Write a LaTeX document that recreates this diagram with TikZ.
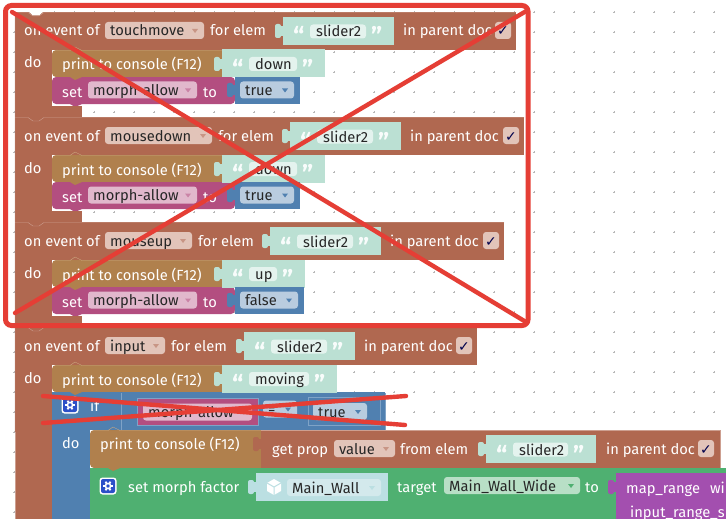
\documentclass[tikz,border=0pt]{standalone}
\usepackage{fontspec}
\setmainfont{Fira Sans}
\newfontfamily\symfont{DejaVu Sans}

\definecolor{evtbrown}{HTML}{B06850}
\definecolor{evtedge}{HTML}{CD9F90}
\definecolor{evtfield}{HTML}{E2C4B9}
\definecolor{printbrown}{HTML}{B0804D}
\definecolor{printedge}{HTML}{CCA881}
\definecolor{setpink}{HTML}{B34E80}
\definecolor{setfield}{HTML}{E1B8CC}
\definecolor{logicblue}{HTML}{5080B0}
\definecolor{logicedge}{HTML}{7FA3C7}
\definecolor{logicfield}{HTML}{B9CCDF}
\definecolor{textteal}{HTML}{BBE0D3}
\definecolor{textfield}{HTML}{E4F3EE}
\definecolor{objgreen}{HTML}{4FB071}
\definecolor{objfield}{HTML}{B8DFC6}
\definecolor{wallteal}{HTML}{BBDFE2}
\definecolor{wallfield}{HTML}{D3E9EC}
\definecolor{mapviolet}{HTML}{A34FAF}
\definecolor{gearblue}{HTML}{2C4FC8}
\definecolor{crossred}{HTML}{E53E35}

\tikzset{
  lbl/.style={font=\fontsize{14.7}{14.7}\selectfont, text=white, inner sep=0pt, anchor=base west},
  val/.style={font=\fontsize{14.7}{14.7}\selectfont, text=black!85, inner sep=0pt, anchor=base west},
  qmark/.style={font=\fontsize{25}{25}\selectfont\bfseries, text=white!90!textteal, inner sep=0pt, anchor=base west},
  fld/.style={fill=#1, rounded corners=3pt},
  cross/.style={draw=crossred, line width=4.4pt, line cap=round}
}

% name, x, centre y, width, fill, text, arrow colour
\newcommand{\fieldbox}[7]{
  \fill[fld=#5] (#2,#3-8.5) rectangle (#2+#4,#3+8.5);
  \node[val] (#1) at (#2+5,#3+5.5) {#6};
  \fill[#7] (#2+#4-12,#3-1.5) -- (#2+#4-6,#3-1.5) -- (#2+#4-9,#3+2.5) -- cycle;
}
% x, centre y, colour of the block it is plugged in
\newcommand{\plugtab}[3]{
  \fill[#3, rounded corners=2pt] (#1-8,#2-7) rectangle (#1-2,#2+7);
  \fill[#3] (#1-4,#2-5) rectangle (#1+1,#2+5);
}
% name, x, centre y, width, word
\newcommand{\quotebox}[5]{
  \fill[textteal] (#2,#3-14) rectangle (#2+#4,#3+14);
  \fill[fld=textfield] (#2+27,#3-6.5) rectangle (#2+#4-28,#3+7.5);
  \node[qmark] (#1l) at (#2+10,#3+15) {“};
  \node[qmark] (#1r) at (#2+#4-23,#3+15) {”};
  \node[val] (#1) at (#2+33,#3+6) {#5};
}
% centre x, centre y
\newcommand{\gearbtn}[2]{
  \fill[white, rounded corners=3pt] (#1-8.5,#2-8.5) rectangle (#1+8.5,#2+8.5);
  \fill[gearblue, rounded corners=2pt] (#1-7,#2-7) rectangle (#1+7,#2+7);
  \foreach \a in {0,60,...,300}
    \draw[white, line width=1.8pt] (#1,#2) ++(\a:2.6) -- ++(\a:2.4);
  \draw[white, line width=1.5pt] (#1,#2) circle (2.6);
}
% name, top y, right x, field width, field text, x of the quote block
\newcommand{\evtrow}[6]{
  \fill[evtbrown] (15,#2) rectangle (#3,#2+38);
  \fill[evtbrown] (15,#2) rectangle (52,#2+105);
  \draw[evtedge] (15,#2+105) -- (15,#2+0.5) -- (28,#2+0.5) -- (33,#2+4) -- (39,#2+4) -- (44,#2+0.5) -- (#3,#2+0.5);
  \node[lbl] (#1on) at (24,#2+24) {on event of};
  \fieldbox{#1evt}{105}{#2+18.5}{#4}{evtfield}{#5}{evtbrown!70}
  \node[lbl] (#1for) at (105+#4+6,#2+24) {for elem};
  \plugtab{#6}{#2+19}{textteal}
  \quotebox{#1elem}{#6}{#2+19}{111}{slider2}
  \node[lbl] (#1par) at (#6+120,#2+24) {in parent doc};
  \fill[fld=evtfield] (#3-21,#2+10) rectangle (#3-5,#2+27);
  \node[val, font=\fontsize{14}{14}\selectfont\symfont, text=black!70!blue] (#1chk) at (#3-19,#2+24) {✓};
  \node[lbl] (#1do) at (24,#2+56) {do};
}
% x left, top y, right x, height
\newcommand{\printblk}[4]{
  \fill[printbrown, rounded corners=4pt] (#1,#2) rectangle (#1+10,#2+#4);
  \fill[printbrown] (#1+5,#2) rectangle (#3,#2+#4);
  \fill[printbrown] (#1+18,#2+#4) -- (#1+23,#2+#4+3) -- (#1+30,#2+#4) -- cycle;
  \draw[printedge] (#1+3,#2+0.5) -- (#1+18,#2+0.5) -- (#1+23,#2-3) -- (#1+30,#2+0.5) -- (#3,#2+0.5);
}
% name, top y, word, width of quote block, value text, right x of value
\newcommand{\printset}[6]{
  \fill[setpink, rounded corners=4pt] (52,#2+27) rectangle (235,#2+54);
  \fill[setpink] (70,#2+54) -- (75,#2+57) -- (82,#2+54) -- cycle;
  \printblk{52}{#2}{222}{27}
  \node[lbl] (#1prt) at (62,#2+20) {print to console (F12)};
  \plugtab{222}{#2+14}{textteal}
  \quotebox{#1word}{222}{#2+13.5}{#4}{#3}
  \node[lbl] (#1set) at (62,#2+47) {set};
  \fieldbox{#1var}{88}{#2+40}{109}{setfield}{morph-allow}{setpink!70}
  \node[lbl] (#1to) at (203,#2+47) {to};
  \fill[logicblue] (235,#2+27) rectangle (#6,#2+54);
  \plugtab{235}{#2+40}{logicblue}
  \fieldbox{#1val}{240}{#2+40}{#6-246}{logicfield}{#5}{logicblue}
}

\begin{document}
\begin{tikzpicture}[x=1pt, y=-1pt]
  \useasboundingbox (0,0) rectangle (726,519);
  \fill[white] (0,0) rectangle (726,519);

  % grid dots
  \foreach \gx in {14,34,...,714}
    \foreach \gy in {12,32,...,512} {
      \fill[black!28] (\gx-1.2,\gy-0.3) rectangle (\gx+1.2,\gy+0.3);
      \fill[black!28] (\gx-0.3,\gy-1.2) rectangle (\gx+0.3,\gy+1.2);
    }

  % the four event blocks
  \fill[evtbrown] (15,327) rectangle (52,519);
  \draw[evtedge] (15,327) -- (15,519);

  \evtrow{a}{12}{516}{99}{touchmove}{283}
  \fill[white] (28,11) -- (33,15.5) -- (39,15.5) -- (44,11) -- cycle;
  \printset{a}{50}{down}{103}{true}{300}
  \fill[evtbrown] (52,106) rectangle (82,117);

  \evtrow{b}{117}{524}{107}{mousedown}{290}
  \printset{b}{155}{down}{103}{true}{300}
  \fill[evtbrown] (52,211) rectangle (82,222);

  \evtrow{c}{222}{504}{87}{mouseup}{270}
  \printset{c}{260}{up}{83}{false}{304}
  \fill[evtbrown] (52,316) rectangle (82,327);

  \evtrow{d}{327}{477}{60}{input}{244}

  % the if block
  \fill[logicblue] (52,392) rectangle (385,430);
  \fill[logicblue] (52,430) rectangle (90,519);
  \draw[logicedge] (121,392.5) -- (121,430) -- (385,430) -- (385,392.5);
  \gearbtn{70}{405}
  \node[lbl] (ifword) at (90,411) {if};
  \fill[setpink] (137,398) rectangle (258,425);
  \draw[logicedge] (137,398) rectangle (258,425);
  \fieldbox{ifvar}{143}{412}{109}{setfield}{morph-allow}{setpink!70}
  \fieldbox{ifop}{263}{409}{34}{logicfield}{=}{logicblue}
  \draw[logicedge] (308,397) rectangle (380,425);
  \fieldbox{iftrue}{313}{411.5}{54}{logicfield}{true}{logicblue}
  \node[lbl] (ifdo) at (62,448) {do};

  \printblk{52}{365}{222}{27}
  \node[lbl] (dprt) at (62,385) {print to console (F12)};
  \plugtab{222}{379}{textteal}
  \quotebox{dword}{222}{378.5}{115}{moving}

  % the green block
  \fill[objgreen] (90,468) rectangle (726,519);
  \gearbtn{108}{486}
  \node[lbl] (mset) at (128,492) {set morph factor};
  \plugtab{256}{487}{wallteal}
  \fill[wallteal] (256,473) rectangle (388,501);
  \fill[white] (274,479) -- (281,483) -- (281,491) -- (274,495) -- (267,491) -- (267,483) -- cycle;
  \draw[wallteal, line width=1pt] (267,483) -- (274,487) -- (281,483) (274,487) -- (274,495);
  \fieldbox{mfrom}{287}{487.5}{94}{wallfield}{Main\_Wall}{wallteal}
  \node[lbl] (mtarget) at (397,492) {target};
  \fieldbox{mgoal}{444}{485.5}{136}{objfield}{Main\_Wall\_Wide}{objgreen}
  \node[lbl] (mto) at (585,492) {to};
  \fill[mapviolet] (616,473) rectangle (726,519);
  \plugtab{616}{487}{mapviolet}
  \node[lbl] (mrange) at (626,493) {map\_range};
  \node[lbl] (mwi) at (710,493) {wi};
  \node[lbl] (minput) at (630,517) {input\_range\_s};

  % the print block inside do
  \printblk{90}{430}{261}{38}
  \node[lbl] (gprt) at (100,449) {print to console (F12)};
  \fill[evtbrown] (261,430) rectangle (720,468);
  \plugtab{261}{444}{evtbrown}
  \draw[evtedge] (261,430.5) -- (720,430.5) -- (720,468);
  \node[lbl] (gget) at (272,454) {get prop};
  \fieldbox{gprop}{334}{448.5}{61}{evtfield}{value}{evtbrown!70}
  \node[lbl] (gfrom) at (400,454) {from elem};
  \plugtab{486}{449}{textteal}
  \quotebox{gelem}{486}{449}{110}{slider2}
  \node[lbl] (gpar) at (606,454) {in parent doc};
  \fill[fld=evtfield] (698,440) rectangle (714,457);
  \node[val, font=\fontsize{14}{14}\selectfont\symfont, text=black!70!blue] (gchk) at (700,454) {✓};

  % the red marks
  \coordinate (boxa) at (5.5,5.5);
  \coordinate (boxb) at (528,325.5);
  \draw[crossred, line width=5pt, rounded corners=6pt] (boxa) rectangle (boxb);
  \coordinate (xa) at (12,12);
  \coordinate (xb) at (526,322);
  \coordinate (xc) at (528,10);
  \coordinate (xd) at (15,313);
  \draw[cross] (xa) -- (xb);
  \draw[cross] (xc) -- (xd);
  \coordinate (ifa) at (43,396);
  \coordinate (ifb) at (405,425);
  \coordinate (ifc) at (43,423);
  \coordinate (ifd) at (406,396);
  \draw[cross] (ifa) -- (ifb);
  \draw[cross] (ifc) -- (ifd);
\end{tikzpicture}
\end{document}
